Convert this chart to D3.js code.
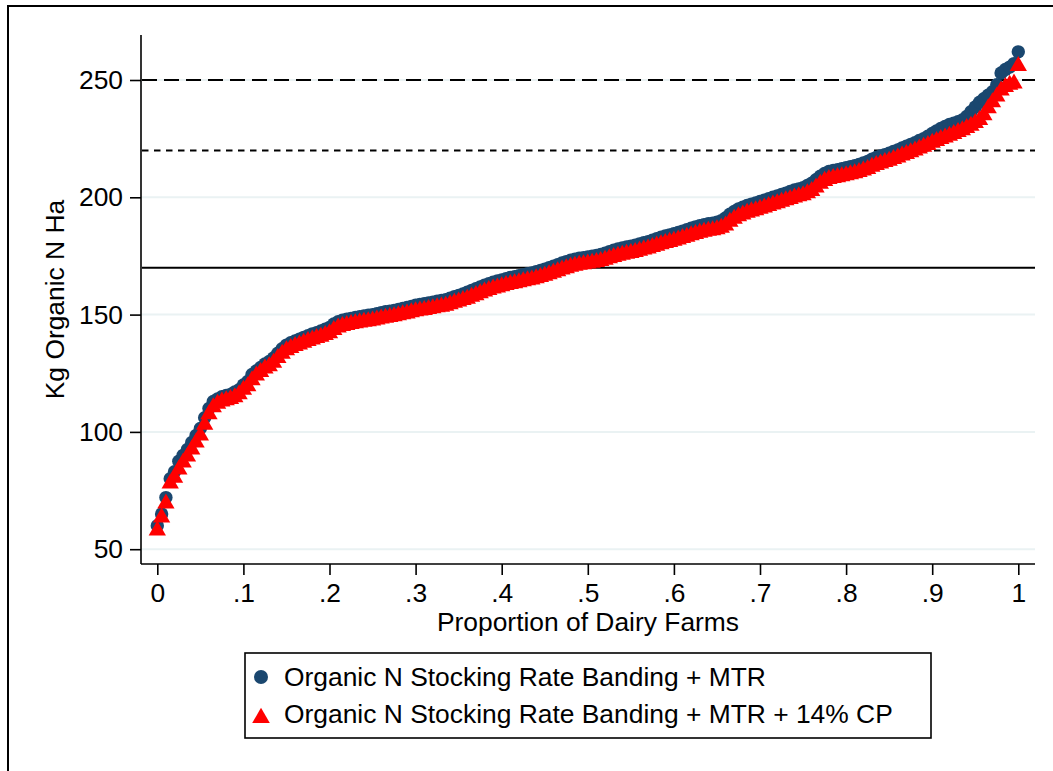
<!DOCTYPE html>
<html>
<head>
<meta charset="utf-8">
<script src="https://cdn.jsdelivr.net/npm/d3@7"></script>
<style>
  html, body { margin: 0; padding: 0; background: #fff; }
  svg { display: block; font-family: "Liberation Sans", Arial, sans-serif; }
</style>
</head>
<body>
<div id="chart"></div>
<script>
// sorted farm values (rank -> proportion of farms)
const mtr = [
  60, 65, 72, 80, 83, 87.5, 90, 92.5, 95.5, 98.5,
  101.5, 106, 110, 113, 114, 115, 115.5, 116, 117, 118,
  120, 121.5, 124.5, 126, 127.5, 129, 130, 131.5, 133.5, 135.5,
  137, 138, 138.8, 139.5, 140.3, 141, 141.8, 142.3, 143, 143.8,
  144.5, 146, 147, 147.6, 148, 148.4, 148.8, 149.1, 149.4, 149.7,
  150, 150.4, 150.8, 151.2, 151.5, 151.8, 152.2, 152.6, 153, 153.5,
  154, 154.3, 154.6, 155, 155.3, 155.7, 156, 156.4, 157, 157.6,
  158.2, 158.8, 159.5, 160.3, 161, 161.8, 162.5, 163.2, 163.8, 164.3,
  164.8, 165.3, 165.8, 166.2, 166.6, 167, 167.4, 167.8, 168.3, 168.8,
  169.4, 170, 170.6, 171.3, 172, 172.6, 173.2, 173.6, 174, 174.3,
  174.6, 174.9, 175.2, 175.6, 176.2, 176.8, 177.4, 178, 178.4, 178.8,
  179.2, 179.6, 180.1, 180.6, 181.1, 181.7, 182.3, 183, 183.5, 184,
  184.5, 185, 185.6, 186.2, 186.8, 187.4, 187.9, 188.3, 188.7, 189,
  189.4, 190, 191.2, 192.8, 194, 195, 195.8, 196.5, 197.1, 197.6,
  198.2, 198.8, 199.4, 200, 200.6, 201.2, 201.8, 202.5, 203.1, 203.6,
  204.1, 205, 206, 207.5, 209, 210.2, 211, 211.4, 211.8, 212.2,
  212.6, 213, 213.5, 214, 214.6, 215.3, 216.2, 217, 217.6, 218.2,
  218.8, 219.5, 220.2, 221, 221.8, 222.5, 223.3, 224.2, 225, 226,
  227.2, 228.3, 229.3, 230.2, 231, 231.6, 232.2, 233, 234.5, 236.5,
  238.5, 240.5, 242, 243.5, 245, 248, 253, 254.5, 255.5, 257,
  262
];

const mtrCP = [
  58, 63.5, 69.5, 78, 80.5, 84, 87, 89.5, 92.5, 95.5,
  98.5, 103, 107.5, 110.5, 112, 113, 113.5, 114, 114.8, 116,
  118, 119.5, 122, 124, 125.5, 127, 128, 129.5, 131.5, 133.3,
  134.8, 135.8, 136.6, 137.3, 138, 138.7, 139.4, 140, 140.6, 141.3,
  142, 143.4, 144.5, 145.1, 145.6, 146, 146.3, 146.6, 146.9, 147.2,
  147.5, 147.9, 148.3, 148.7, 149, 149.3, 149.7, 150.1, 150.5, 151,
  151.4, 151.7, 152, 152.4, 152.7, 153.1, 153.4, 153.8, 154.4, 155,
  155.6, 156.2, 156.8, 157.6, 158.3, 159.1, 159.8, 160.5, 161.1, 161.6,
  162.1, 162.6, 163, 163.4, 163.8, 164.2, 164.6, 165, 165.5, 166,
  166.6, 167.2, 167.8, 168.5, 169.2, 169.8, 170.4, 170.8, 171.2, 171.5,
  171.8, 172.1, 172.4, 172.8, 173.4, 174, 174.6, 175.1, 175.5, 175.9,
  176.3, 176.7, 177.2, 177.7, 178.2, 178.8, 179.4, 180, 180.5, 181,
  181.5, 182, 182.6, 183.2, 183.8, 184.4, 184.9, 185.3, 185.7, 186,
  186.4, 187, 188, 189.6, 190.9, 191.9, 192.7, 193.4, 194, 194.5,
  195.1, 195.7, 196.3, 196.9, 197.5, 198.1, 198.7, 199.3, 199.9, 200.4,
  200.9, 201.7, 202.7, 204.2, 205.8, 207, 207.8, 208.2, 208.6, 209,
  209.4, 209.8, 210.3, 210.8, 211.4, 212.1, 213, 213.8, 214.4, 215,
  215.6, 216.3, 217, 217.8, 218.5, 219.2, 220, 220.8, 221.5, 222.3,
  223.2, 224, 224.8, 225.5, 226.2, 227, 227.8, 228.6, 229.5, 230.5,
  231.7, 233, 235, 238, 240.5, 243, 245.5, 247, 248, 248.5,
  256
];

const yTicks = [50, 100, 150, 200, 250];
const xTicks = [0, 0.1, 0.2, 0.3, 0.4, 0.5, 0.6, 0.7, 0.8, 0.9, 1];
// reference thresholds (solid, dotted, dashed)
const refLines = [
  { value: 170, dash: null },
  { value: 220, dash: "6.5,5.5" },
  { value: 250, dash: "15,7" }
];
const seriesNames = [
  "Organic N Stocking Rate Banding + MTR",
  "Organic N Stocking Rate Banding + MTR + 14% CP"
];

const W = 1053, H = 771;
const plot = { left: 141, right: 1035, top: 35, bottom: 564 };
const BLUE = "#1a476f", RED = "#ff0000";
const FONT = 26.4;

const svg = d3.select("#chart").append("svg")
  .attr("width", W).attr("height", H);

// outer frame (right/bottom run off the page)
svg.append("rect")
  .attr("x", 8).attr("y", 6).attr("width", 1200).attr("height", 900)
  .attr("fill", "none").attr("stroke", "#000").attr("stroke-width", 2);

const x = d3.scaleLinear().domain([0, 1]).range([157.3, 1018.3]);
const y = d3.scaleLinear().domain([50, 250]).range([549.2, 80]);

const toPoints = arr => arr.map((v, i) => ({ p: i / (arr.length - 1), v }));

// gridlines
svg.append("g")
  .selectAll("line")
  .data(yTicks)
  .join("line")
  .attr("x1", plot.left).attr("x2", plot.right)
  .attr("y1", d => y(d)).attr("y2", d => y(d))
  .attr("stroke", "#eaf2f3").attr("stroke-width", 2);

// reference lines
svg.append("g")
  .selectAll("line")
  .data(refLines)
  .join("line")
  .attr("x1", plot.left + 1).attr("x2", plot.right)
  .attr("y1", d => y(d.value)).attr("y2", d => y(d.value))
  .attr("stroke", "#000").attr("stroke-width", 2)
  .attr("stroke-dasharray", d => d.dash);

// y axis
const yAxis = svg.append("g")
  .attr("transform", `translate(${plot.left},0)`)
  .call(d3.axisLeft(y).tickValues(yTicks).tickSize(11).tickPadding(7).tickSizeOuter(0));
yAxis.select(".domain").attr("d", `M0,${plot.top}V${plot.bottom}`);

// x axis
const xAxis = svg.append("g")
  .attr("transform", `translate(0,${plot.bottom})`)
  .call(d3.axisBottom(x).tickValues(xTicks).tickSize(11).tickPadding(8)
    .tickFormat(d => d === 0 ? "0" : d === 1 ? "1" : d3.format(".1f")(d).replace(/^0/, "")));
xAxis.select(".domain").attr("d", `M${plot.left},0H${plot.right}`);

svg.selectAll(".tick line").attr("stroke", "#000").attr("stroke-width", 1.6);
svg.selectAll(".domain").attr("stroke", "#000").attr("stroke-width", 1.6);
svg.selectAll(".tick text")
  .attr("font-size", FONT).attr("font-family", "Liberation Sans, Arial, sans-serif")
  .attr("fill", "#000");

// axis titles
svg.append("text")
  .attr("transform", `translate(64,${(plot.top + plot.bottom) / 2}) rotate(-90)`)
  .attr("text-anchor", "middle")
  .attr("font-size", FONT)
  .text("Kg Organic N Ha");

svg.append("text")
  .attr("x", (plot.left + plot.right) / 2).attr("y", 631)
  .attr("text-anchor", "middle")
  .attr("font-size", FONT)
  .text("Proportion of Dairy Farms");

// markers
const tri = d3.symbol().type(d3.symbolTriangle).size(130);

svg.append("g")
  .selectAll("circle")
  .data(toPoints(mtr))
  .join("circle")
  .attr("cx", d => x(d.p)).attr("cy", d => y(d.v))
  .attr("r", 6.7)
  .attr("fill", BLUE);

svg.append("g")
  .selectAll("path")
  .data(toPoints(mtrCP))
  .join("path")
  .attr("transform", d => `translate(${x(d.p)},${y(d.v)})`)
  .attr("d", tri)
  .attr("fill", RED);

// legend
const lg = svg.append("g");
lg.append("rect")
  .attr("x", 245).attr("y", 653).attr("width", 686).attr("height", 85)
  .attr("fill", "#fff").attr("stroke", "#000").attr("stroke-width", 1.6);

lg.append("circle").attr("cx", 261).attr("cy", 677).attr("r", 7).attr("fill", BLUE);
lg.append("path")
  .attr("transform", "translate(261,718)")
  .attr("d", d3.symbol().type(d3.symbolTriangle).size(135))
  .attr("fill", RED);

lg.selectAll("text")
  .data(seriesNames)
  .join("text")
  .attr("x", 284).attr("y", (d, i) => 686 + i * 36.5)
  .attr("font-size", FONT)
  .text(d => d);
</script>
</body>
</html>
